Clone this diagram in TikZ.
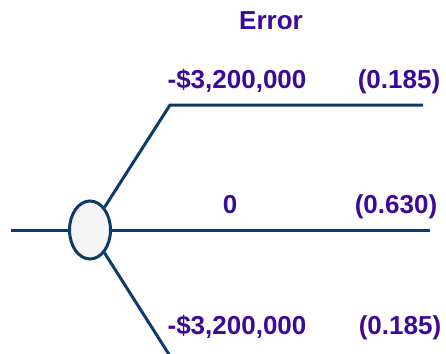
\documentclass[tikz,border=0pt]{standalone}
\usepackage{fontspec}
\setmainfont{Liberation Sans}
\usetikzlibrary{shapes.geometric}
\definecolor{branch}{HTML}{0B3C69}
\definecolor{label}{HTML}{3C0A99}
\definecolor{chancefill}{HTML}{F5F5F5}

\begin{document}
\begin{tikzpicture}[x=1pt, y=-1pt,
  branchline/.style={draw=branch, line width=3pt},
  payoff/.style={text=label, font=\fontsize{26}{31}\selectfont\bfseries, anchor=base, inner sep=0pt}]
  \clip (0,0) rectangle (446,353);

  % chance node and its branches
  \node[ellipse, draw=branch, fill=chancefill, line width=3pt, minimum width=41pt, minimum height=58pt, inner sep=0pt] (chance) at (90,230) {};
  \coordinate (root) at (11,230);
  \coordinate (upbend) at (170,105);
  \coordinate (upend) at (423,105);
  \coordinate (midend) at (430,230);
  \coordinate (lowbend) at (170,356);

  \draw[branchline] (root) -- (chance);
  \draw[branchline] (chance) -- (upbend) -- (upend);
  \draw[branchline] (chance) -- (midend);
  \draw[branchline] (chance) -- (lowbend);

  % labels
  \node[payoff] (head) at (271,30) {Error};
  \node[payoff] (upval) at (237,88) {-\$3,200,000};
  \node[payoff] (upprob) at (399,88) {(0.185)};
  \node[payoff] (midval) at (230,213) {0};
  \node[payoff] (midprob) at (396,213) {(0.630)};
  \node[payoff] (lowval) at (237,334) {-\$3,200,000};
  \node[payoff] (lowprob) at (400,334) {(0.185)};
\end{tikzpicture}
\end{document}
